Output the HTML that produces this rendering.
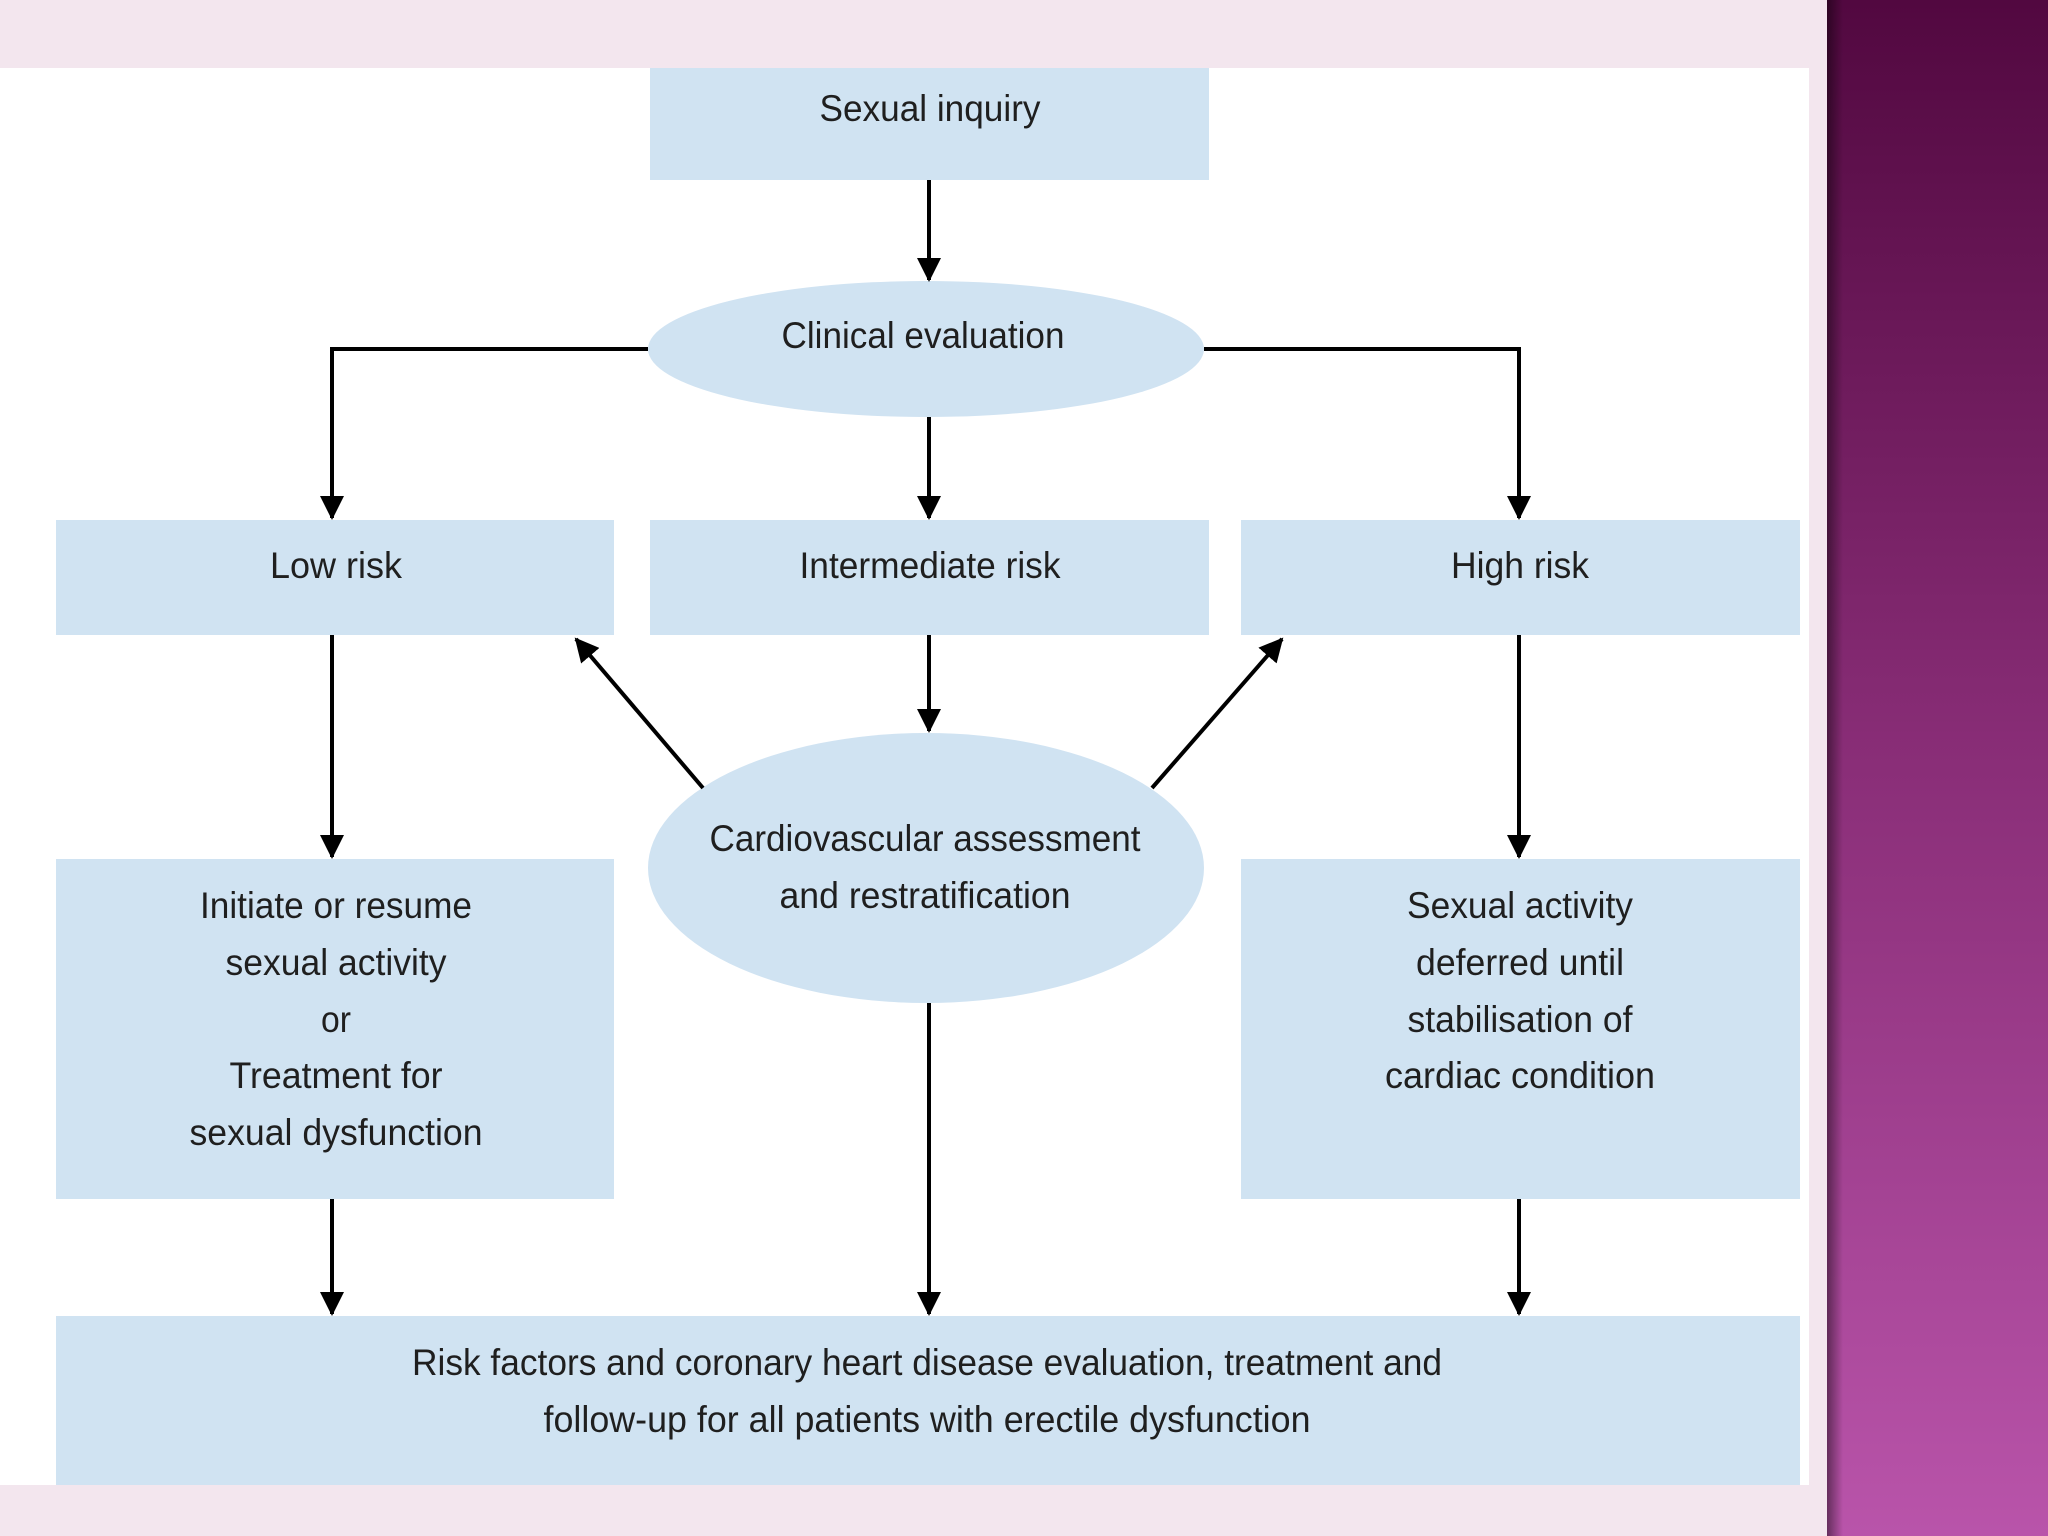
<!DOCTYPE html>
<html><head><meta charset="utf-8"><style>
html,body{margin:0;padding:0;width:2048px;height:1536px;overflow:hidden;background:#f3e6ee;}
svg{display:block}
text{font-family:"Liberation Sans",Arial,sans-serif;font-size:37px;fill:#1f1f1f;text-anchor:middle}
</style></head><body>
<svg width="2048" height="1536" viewBox="0 0 2048 1536">
<defs>
<linearGradient id="pg" x1="0" y1="0" x2="0" y2="1">
<stop offset="0" stop-color="#520840"/><stop offset="0.5" stop-color="#8a2e78"/><stop offset="1" stop-color="#b954aa"/>
</linearGradient>
<linearGradient id="sh" x1="0" y1="0" x2="1" y2="0">
<stop offset="0" stop-color="#000" stop-opacity="0.45"/><stop offset="1" stop-color="#000" stop-opacity="0"/>
</linearGradient>
<marker id="a" markerWidth="6" markerHeight="6" refX="5.5" refY="3" orient="auto" markerUnits="strokeWidth">
<path d="M0,0 L6,3 L0,6 Z" fill="#000"/>
</marker>
</defs>
<rect x="0" y="0" width="2048" height="1536" fill="#f3e6ee"/>
<rect x="1827" y="0" width="221" height="1536" fill="url(#pg)"/>
<rect x="1827" y="0" width="16" height="1536" fill="url(#sh)"/>
<rect x="0" y="68" width="1809" height="1417" fill="#fff"/>
<g fill="#d0e3f2">
<rect x="650" y="68" width="559" height="112"/>
<ellipse cx="926" cy="349" rx="278" ry="68"/>
<rect x="56" y="520" width="558" height="115"/>
<rect x="650" y="520" width="559" height="115"/>
<rect x="1241" y="520" width="559" height="115"/>
<ellipse cx="926" cy="868" rx="278" ry="135"/>
<rect x="56" y="859" width="558" height="340"/>
<rect x="1241" y="859" width="559" height="340"/>
<rect x="56" y="1316" width="1744" height="169"/>
</g>
<g stroke="#000" stroke-width="4" fill="none">
<line x1="929" y1="180" x2="929" y2="280" marker-end="url(#a)"/>
<polyline points="648,349 332,349 332,518" marker-end="url(#a)"/>
<polyline points="1204,349 1519,349 1519,518" marker-end="url(#a)"/>
<line x1="929" y1="417" x2="929" y2="518" marker-end="url(#a)"/>
<line x1="332" y1="635" x2="332" y2="857" marker-end="url(#a)"/>
<line x1="1519" y1="635" x2="1519" y2="857" marker-end="url(#a)"/>
<line x1="929" y1="635" x2="929" y2="731" marker-end="url(#a)"/>
<line x1="703" y1="788" x2="576" y2="639" marker-end="url(#a)"/>
<line x1="1152" y1="788" x2="1282" y2="639" marker-end="url(#a)"/>
<line x1="929" y1="1003" x2="929" y2="1314" marker-end="url(#a)"/>
<line x1="332" y1="1199" x2="332" y2="1314" marker-end="url(#a)"/>
<line x1="1519" y1="1199" x2="1519" y2="1314" marker-end="url(#a)"/>
</g>
<g lengthAdjust="spacingAndGlyphs">
<text x="930" y="121" textLength="221" lengthAdjust="spacingAndGlyphs">Sexual inquiry</text>
<text x="923" y="348" textLength="283" lengthAdjust="spacingAndGlyphs">Clinical evaluation</text>
<text x="336" y="578" textLength="132" lengthAdjust="spacingAndGlyphs">Low risk</text>
<text x="930" y="578" textLength="261" lengthAdjust="spacingAndGlyphs">Intermediate risk</text>
<text x="1520" y="578" textLength="138" lengthAdjust="spacingAndGlyphs">High risk</text>
<text x="925" y="851" textLength="431" lengthAdjust="spacingAndGlyphs">Cardiovascular assessment</text>
<text x="925" y="908" textLength="291" lengthAdjust="spacingAndGlyphs">and restratification</text>
<text x="336" y="918" textLength="272" lengthAdjust="spacingAndGlyphs">Initiate or resume</text>
<text x="336" y="975" textLength="221" lengthAdjust="spacingAndGlyphs">sexual activity</text>
<text x="336" y="1032" textLength="30" lengthAdjust="spacingAndGlyphs">or</text>
<text x="336" y="1088" textLength="213" lengthAdjust="spacingAndGlyphs">Treatment for</text>
<text x="336" y="1145" textLength="293" lengthAdjust="spacingAndGlyphs">sexual dysfunction</text>
<text x="1520" y="918" textLength="226" lengthAdjust="spacingAndGlyphs">Sexual activity</text>
<text x="1520" y="975" textLength="208" lengthAdjust="spacingAndGlyphs">deferred until</text>
<text x="1520" y="1032" textLength="225" lengthAdjust="spacingAndGlyphs">stabilisation of</text>
<text x="1520" y="1088" textLength="270" lengthAdjust="spacingAndGlyphs">cardiac condition</text>
<text x="927" y="1375" textLength="1030" lengthAdjust="spacingAndGlyphs">Risk factors and coronary heart disease evaluation, treatment and</text>
<text x="927" y="1432" textLength="767" lengthAdjust="spacingAndGlyphs">follow-up for all patients with erectile dysfunction</text>
</g>
</svg>
</body></html>
